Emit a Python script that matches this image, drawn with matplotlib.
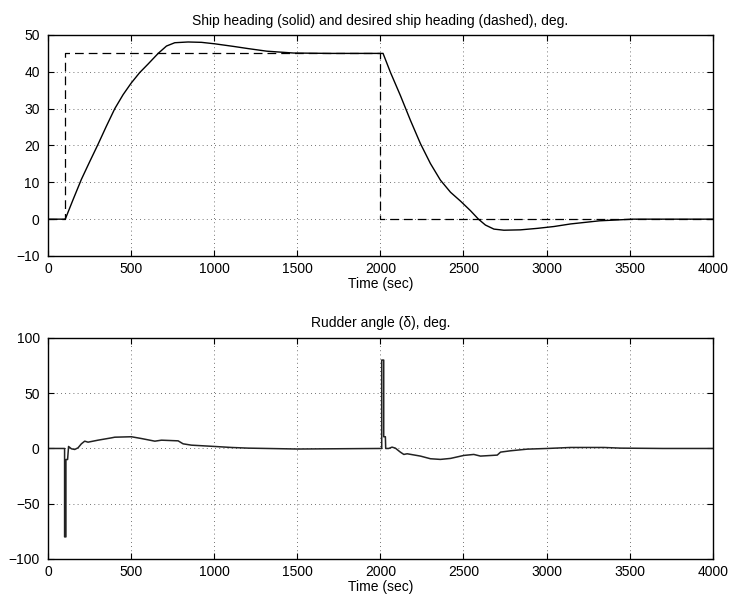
import numpy as np
import matplotlib
matplotlib.use('Agg')
import matplotlib.pyplot as plt

plt.rcParams['font.family'] = ['Liberation Sans', 'DejaVu Sans']
plt.rcParams['font.size'] = 10

# ship heading (deg) vs time (sec)
heading_t = [0, 100, 104, 151, 201, 251, 301, 351, 402, 452, 500, 552, 602, 663,
             713, 763, 843, 924, 1004, 1116, 1205, 1317, 1478, 1700, 2000, 2016,
             2060, 2120, 2181, 2241, 2301, 2361, 2422, 2482, 2542, 2590, 2632,
             2683, 2743, 2843, 2944, 3044, 3144, 3318, 3519, 4000]
heading = [0, 0, 0, 5.3, 10.8, 15.6, 20.3, 25.2, 30, 33.8, 36.9, 39.8, 42.1, 45,
           47, 47.9, 48.1, 48.0, 47.6, 46.9, 46.3, 45.6, 45.1, 45.0, 45, 45,
           39.9, 33.6, 26.8, 20.5, 15.1, 10.6, 7.3, 4.9, 2.3, 0, -1.6,
           -2.7, -3.0, -2.9, -2.5, -2.0, -1.3, -0.45, 0, 0]

# desired heading (deg)
desired_t = [0, 100, 100, 2000, 2000, 4000]
desired = [0, 0, 45, 45, 0, 0]

# rudder angle (deg)
rudder_t = [0, 100, 100, 108, 108, 118, 124, 141, 161, 181, 201, 221, 241, 301,
            382, 402, 502, 562, 643, 683, 783, 813, 863, 1004, 1104, 1205, 1500,
            2008, 2008, 2020, 2020, 2030, 2032, 2050, 2070, 2090, 2120, 2141,
            2161, 2241, 2301, 2361, 2422, 2502, 2562, 2602, 2703, 2723, 2783,
            2884, 3004, 3144, 3345, 3446, 3700, 4000]
rudder = [0, 0, -80, -80, -10, -10, 1.8, -0.3, -0.9, 0.6, 4.2, 6.6, 5.7, 7.5,
          9.6, 10.2, 10.6, 9, 6.6, 7.5, 6.9, 4.2, 3.0, 1.8, 0.9, 0.3, -0.5,
          0, 80, 80, 10.6, 10.6, 0, 0, 1.2, 0.3, -3.3, -5.4,
          -4.8, -6.9, -9.3, -9.9, -9, -6.3, -5.4, -6.9, -6, -3.3, -2.1,
          -0.6, 0, 0.9, 0.9, 0.3, 0, 0]

fig = plt.figure(figsize=(7.29, 5.97), dpi=100)
ax1 = fig.add_axes([0.0658, 0.5712, 0.912, 0.3702])
ax2 = fig.add_axes([0.0658, 0.0637, 0.912, 0.3702])

ax1.plot(heading_t, heading, color='k', lw=1.0)
ax1.plot(desired_t, desired, color='k', lw=0.9, linestyle=(0, (7, 4)))
ax1.set_xlim(0, 4000)
ax1.set_ylim(-10, 50)
ax1.set_yticks(range(-10, 51, 10))
ax1.set_title('Ship heading (solid) and desired ship heading (dashed), deg.',
              fontsize=10, pad=7)

ax2.plot(rudder_t, rudder, color='#222222', lw=1.1)
ax2.set_xlim(0, 4000)
ax2.set_ylim(-100, 100)
ax2.set_yticks([-100, -50, 0, 50, 100])
ax2.set_title('Rudder angle (\u03b4), deg.', fontsize=10, pad=8)

for ax in (ax1, ax2):
    ax.set_xticks(range(0, 4001, 500))
    ax.set_xlabel('Time (sec)', fontsize=10, labelpad=1)
    ax.grid(True, linestyle=(0, (1, 4)), color='#444444', lw=0.6)
    ax.tick_params(direction='in', top=True, right=True, length=4, labelsize=10)
    ax.tick_params(axis='y', pad=6)
    ax.tick_params(axis='x', pad=4)
    for s in ax.spines.values():
        s.set_linewidth(1.0)

fig.savefig('out.png', dpi=100)
